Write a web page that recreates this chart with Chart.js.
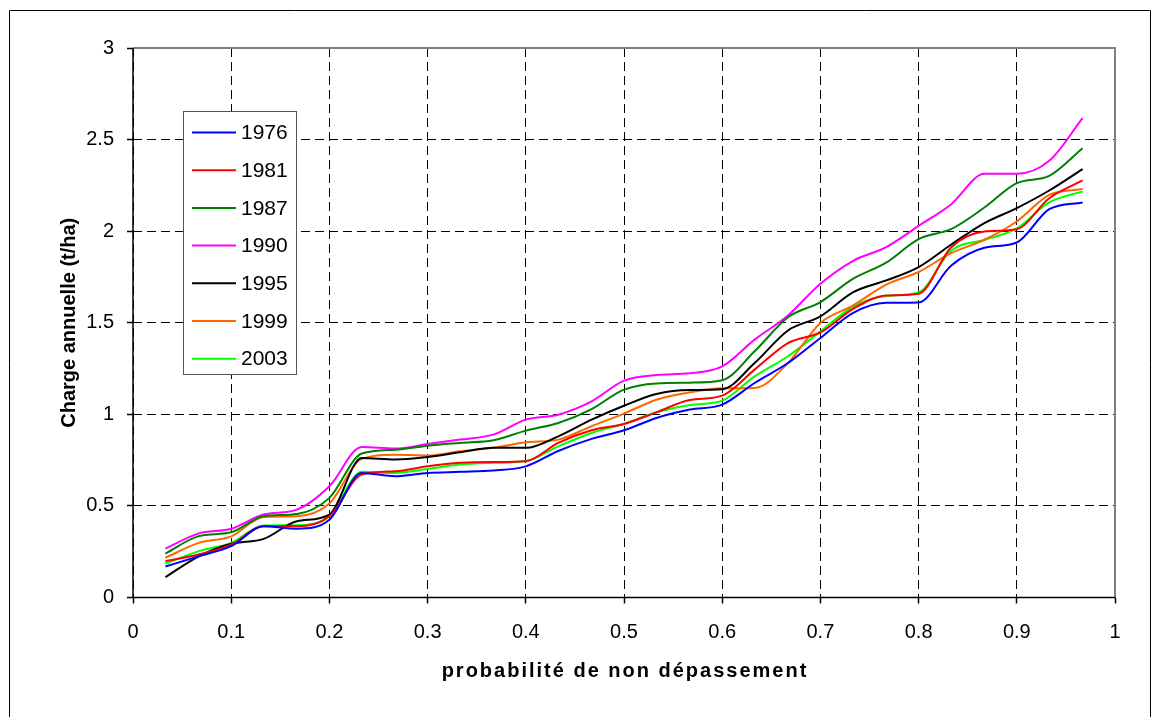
<!DOCTYPE html>
<html>
<head>
<meta charset="utf-8">
<script src="https://cdn.jsdelivr.net/npm/chart.js@4/dist/chart.umd.min.js"></script>
<style>
  html, body { margin: 0; padding: 0; background: #ffffff; }
  canvas { display: block; }
</style>
</head>
<body>
<canvas id="c" width="1153" height="717"></canvas>
<script>
// ---- data ----
const probabilities = [0.033, 0.067, 0.100, 0.133, 0.167, 0.200, 0.233, 0.267, 0.300, 0.333,
                       0.367, 0.400, 0.433, 0.467, 0.500, 0.533, 0.567, 0.600, 0.633, 0.667,
                       0.700, 0.733, 0.767, 0.800, 0.833, 0.867, 0.900, 0.933, 0.967];

const y1976 = [0.169, 0.225, 0.280, 0.389, 0.376, 0.425, 0.680, 0.662, 0.680, 0.686,
               0.693, 0.716, 0.800, 0.866, 0.913, 0.980, 1.026, 1.053, 1.171, 1.280,
               1.417, 1.553, 1.609, 1.611, 1.811, 1.909, 1.938, 2.120, 2.157];
const y1981 = [0.198, 0.235, 0.289, 0.389, 0.389, 0.444, 0.671, 0.689, 0.716, 0.735,
               0.740, 0.744, 0.844, 0.913, 0.947, 1.011, 1.078, 1.102, 1.244, 1.389,
               1.447, 1.575, 1.649, 1.658, 1.911, 1.998, 2.011, 2.180, 2.277];
const y1987 = [0.240, 0.335, 0.356, 0.444, 0.456, 0.544, 0.786, 0.807, 0.829, 0.844,
               0.858, 0.911, 0.953, 1.029, 1.135, 1.169, 1.173, 1.186, 1.344, 1.530,
               1.613, 1.739, 1.828, 1.957, 2.011, 2.129, 2.262, 2.302, 2.453];
const y1990 = [0.267, 0.350, 0.375, 0.453, 0.480, 0.607, 0.822, 0.813, 0.838, 0.862,
               0.889, 0.971, 0.998, 1.071, 1.184, 1.215, 1.224, 1.262, 1.408, 1.540,
               1.713, 1.837, 1.913, 2.029, 2.146, 2.313, 2.313, 2.384, 2.617];
const y1995 = [0.111, 0.225, 0.293, 0.320, 0.416, 0.453, 0.762, 0.753, 0.767, 0.793,
               0.817, 0.817, 0.880, 0.971, 1.047, 1.111, 1.133, 1.137, 1.280, 1.458,
               1.535, 1.666, 1.731, 1.804, 1.926, 2.044, 2.126, 2.222, 2.339];
const y1999 = [0.217, 0.298, 0.334, 0.440, 0.444, 0.513, 0.757, 0.780, 0.775, 0.798,
               0.817, 0.847, 0.862, 0.935, 1.004, 1.080, 1.120, 1.142, 1.144, 1.280,
               1.499, 1.593, 1.708, 1.777, 1.880, 1.953, 2.053, 2.198, 2.230];
const y2003 = [0.184, 0.253, 0.298, 0.393, 0.395, 0.444, 0.686, 0.680, 0.702, 0.726,
               0.735, 0.745, 0.825, 0.898, 0.949, 1.011, 1.051, 1.075, 1.207, 1.317,
               1.453, 1.586, 1.646, 1.666, 1.893, 1.953, 2.015, 2.157, 2.217];

const seriesLabels = ['1976', '1981', '1987', '1990', '1995', '1999', '2003'];
const seriesValues = [y1976, y1981, y1987, y1990, y1995, y1999, y2003];
const seriesColors = ['#0000FF', '#FF0000', '#008000', '#FF00FF', '#000000', '#FF6600', '#00FF00'];

const xTitle = 'probabilité de non dépassement';
const yTitle = 'Charge annuelle (t/ha)';

const FONT = "'Liberation Sans', Arial, sans-serif";

// ---- plugins ----
const framePlugin = {
  id: 'frame',
  beforeDraw(chart) {
    const ctx = chart.ctx;
    ctx.save();
    ctx.fillStyle = '#ffffff';
    ctx.fillRect(0, 0, chart.width, chart.height);
    ctx.restore();
  },
  afterDatasetsDraw(chart) {
    const {ctx, chartArea: a} = chart;
    ctx.save();
    // plot area border (grey)
    ctx.strokeStyle = '#808080';
    ctx.lineWidth = 2;
    ctx.beginPath();
    ctx.moveTo(a.left, a.top);
    ctx.lineTo(a.right, a.top);
    ctx.lineTo(a.right, a.bottom);
    ctx.stroke();
    // axes (black)
    ctx.strokeStyle = '#000000';
    ctx.lineWidth = 1.5;
    ctx.beginPath();
    ctx.moveTo(a.left, a.top);
    ctx.lineTo(a.left, a.bottom);
    ctx.lineTo(a.right, a.bottom);
    ctx.stroke();
    // outer frame of the picture
    ctx.lineWidth = 1;
    ctx.beginPath();
    ctx.moveTo(9.5, chart.height);
    ctx.lineTo(9.5, 10.5);
    ctx.lineTo(1150.5, 10.5);
    ctx.lineTo(1150.5, chart.height);
    ctx.stroke();
    // x axis title (slightly letter-spaced as in the reference)
    ctx.fillStyle = '#000000';
    ctx.font = 'bold 20px ' + FONT;
    ctx.textAlign = 'center';
    ctx.textBaseline = 'middle';
    try { ctx.letterSpacing = '2px'; } catch (e) {}
    ctx.fillText(xTitle, (a.left + a.right) / 2 + 1, 671);
    try { ctx.letterSpacing = '0px'; } catch (e) {}
    ctx.restore();
  }
};

const boxLegendPlugin = {
  id: 'boxLegend',
  afterDraw(chart) {
    const ctx = chart.ctx;
    const left = 183.5, top = 111.5, right = 296.5, bottom = 374.5;
    const firstY = 132.5, step = 37.7;
    ctx.save();
    ctx.fillStyle = '#ffffff';
    ctx.fillRect(left, top, right - left, bottom - top);
    ctx.strokeStyle = '#555555';
    ctx.lineWidth = 1;
    ctx.strokeRect(left, top, right - left, bottom - top);
    ctx.font = '21px ' + FONT;
    ctx.textBaseline = 'middle';
    ctx.textAlign = 'left';
    chart.data.datasets.forEach((ds, i) => {
      const y = firstY + i * step;
      ctx.strokeStyle = ds.borderColor;
      ctx.lineWidth = 2;
      ctx.beginPath();
      ctx.moveTo(192, y);
      ctx.lineTo(236, y);
      ctx.stroke();
      ctx.fillStyle = '#000000';
      ctx.fillText(ds.label, 241, y + 1);
    });
    ctx.restore();
  }
};

// ---- chart ----
const datasets = seriesLabels.map((lab, k) => ({
  label: lab,
  data: probabilities.map((p, i) => ({x: p, y: seriesValues[k][i]})),
  borderColor: seriesColors[k],
  backgroundColor: seriesColors[k],
  borderWidth: 2,
  pointRadius: 0,
  fill: false,
  cubicInterpolationMode: 'monotone'
}));

new Chart(document.getElementById('c'), {
  type: 'line',
  data: { datasets },
  plugins: [framePlugin, boxLegendPlugin],
  options: {
    responsive: false,
    animation: false,
    layout: { padding: { left: 53, top: 48, right: 38, bottom: 30 } },
    plugins: { legend: { display: false }, tooltip: { enabled: false } },
    scales: {
      x: {
        type: 'linear',
        min: 0, max: 1,
        afterFit(s) { s.height = 89.5; },
        border: { display: false, dash: [9, 5] },
        grid: {
          color: '#000000', lineWidth: 1,
          drawTicks: true, tickLength: 6, tickColor: '#000000', tickBorderDash: [], tickWidth: 1.5
        },
        ticks: {
          stepSize: 0.1, color: '#000000', padding: 17, maxRotation: 0,
          font: { family: FONT, size: 20 },
          callback: v => String(Math.round(v * 10) / 10)
        },
        title: { display: false }
      },
      y: {
        type: 'linear',
        min: 0, max: 3,
        afterFit(s) { s.width = 80; },
        border: { display: false, dash: [9, 5] },
        grid: {
          color: '#000000', lineWidth: 1,
          drawTicks: true, tickLength: 6, tickColor: '#000000', tickBorderDash: [], tickWidth: 1.5
        },
        ticks: {
          stepSize: 0.5, color: '#000000', padding: 13,
          font: { family: FONT, size: 20 },
          callback: v => String(Math.round(v * 10) / 10)
        },
        title: {
          display: true, text: yTitle, color: '#000000',
          font: { family: FONT, size: 20, weight: 'bold' },
          padding: { top: 4, bottom: 4 }
        }
      }
    }
  }
});
</script>
</body>
</html>
